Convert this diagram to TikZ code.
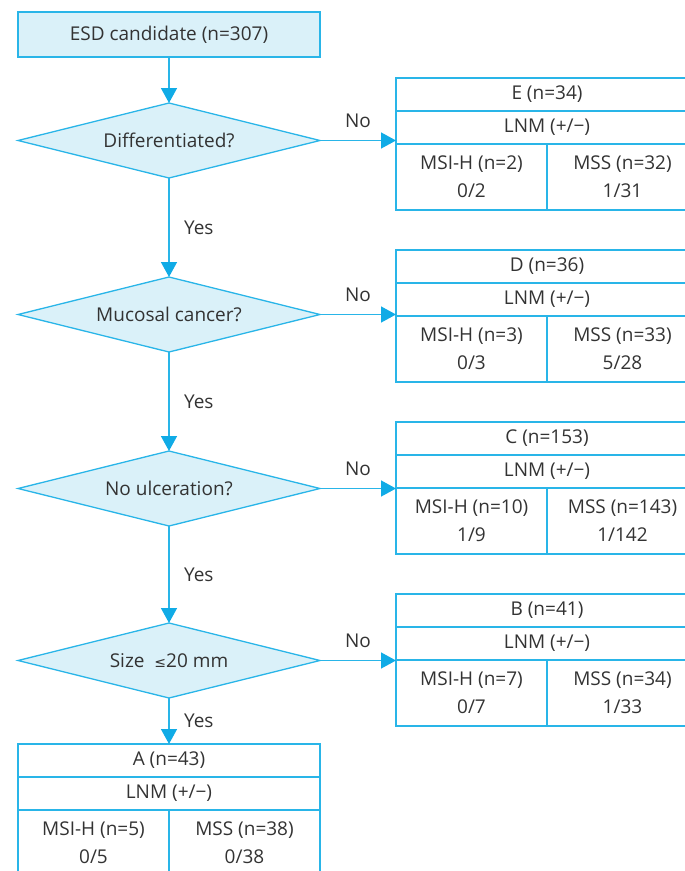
\documentclass[tikz,border=0pt]{standalone}
\usepackage{fontspec}
\setmainfont{Open Sans}
\newfontfamily\symfont{DejaVu Sans}
\usetikzlibrary{shapes.geometric,arrows.meta}
\definecolor{lc}{HTML}{29B5E8}
\definecolor{ac}{HTML}{10ABE6}
\definecolor{fc}{HTML}{DAF1F9}
\definecolor{tc}{HTML}{333333}
\newcommand\outcome[8]{%
  \node[cell, anchor=north west] (#1h) at (#2,#3) {#4};
  \node[cell, anchor=north west] (#1l) at (#1h.south west) {LNM (+/−)};
  \node[half, anchor=north west] (#1a) at (#1l.south west) {#5\\#6};
  \node[half, anchor=north west] (#1b) at (#1a.north east) {#7\\#8};
}
\begin{document}
\begin{tikzpicture}[x=1pt,y=-1pt,
  every node/.style={text=tc, font=\fontsize{19}{28}\selectfont},
  box/.style={draw=lc, fill=fc, line width=1.3pt, minimum width=302pt, minimum height=45pt, inner sep=0pt, outer sep=0pt},
  dec/.style={diamond, draw=lc, fill=fc, line width=1.3pt, minimum width=302pt, minimum height=75pt, aspect=4, inner sep=0pt, outer sep=0pt},
  cell/.style={draw=lc, line width=1.3pt, minimum width=302pt, minimum height=33pt, inner sep=0pt, outer sep=0pt},
  half/.style={draw=lc, line width=1.3pt, minimum width=151pt, minimum height=66pt, inner sep=0pt, outer sep=0pt, align=center},
  conn/.style={draw=lc, line width=1.5pt, -{Triangle[width=16pt,length=15pt,color=ac]}},
  yes/.style={midway, anchor=west, xshift=11pt},
  no/.style={midway, yshift=20pt}
]
\useasboundingbox (0,0) rectangle (685,871);
\clip (0,0) rectangle (685,871);
\node[box] (start) at (169,34.5) {ESD candidate (n=307)};
\node[dec] (d1) at (169,140.5) {Differentiated?};
\node[dec] (d2) at (169,314.5) {Mucosal cancer?};
\node[dec] (d3) at (169,488.5) {No ulceration?};
\node[dec] (d4) at (169,660.5) {Size \ {\symfont\fontsize{14}{28}\selectfont ≤}20 mm};
\outcome{E}{396}{78}{E (n=34)}{MSI-H (n=2)}{0/2}{MSS (n=32)}{1/31}
\outcome{D}{396}{250}{D (n=36)}{MSI-H (n=3)}{0/3}{MSS (n=33)}{5/28}
\outcome{C}{396}{422}{C (n=153)}{MSI-H (n=10)}{1/9}{MSS (n=143)}{1/142}
\outcome{B}{396}{594}{B (n=41)}{MSI-H (n=7)}{0/7}{MSS (n=34)}{1/33}
\outcome{A}{18}{744}{A (n=43)}{MSI-H (n=5)}{0/5}{MSS (n=38)}{0/38}
\draw[conn] (start.south) -- (d1.north);
\draw[conn] (d1.south) -- (d2.north) node[yes] {Yes};
\draw[conn] (d2.south) -- (d3.north) node[yes] {Yes};
\draw[conn] (d3.south) -- (d4.north) node[yes] {Yes};
\draw[conn] (d4.south) -- (Ah.north) node[yes] {Yes};
\draw[conn] (d1.east) -- (d1.east -| Eh.west) node[no] {No};
\draw[conn] (d2.east) -- (d2.east -| Dh.west) node[no] {No};
\draw[conn] (d3.east) -- (d3.east -| Ch.west) node[no] {No};
\draw[conn] (d4.east) -- (d4.east -| Bh.west) node[no] {No};
\end{tikzpicture}
\end{document}
